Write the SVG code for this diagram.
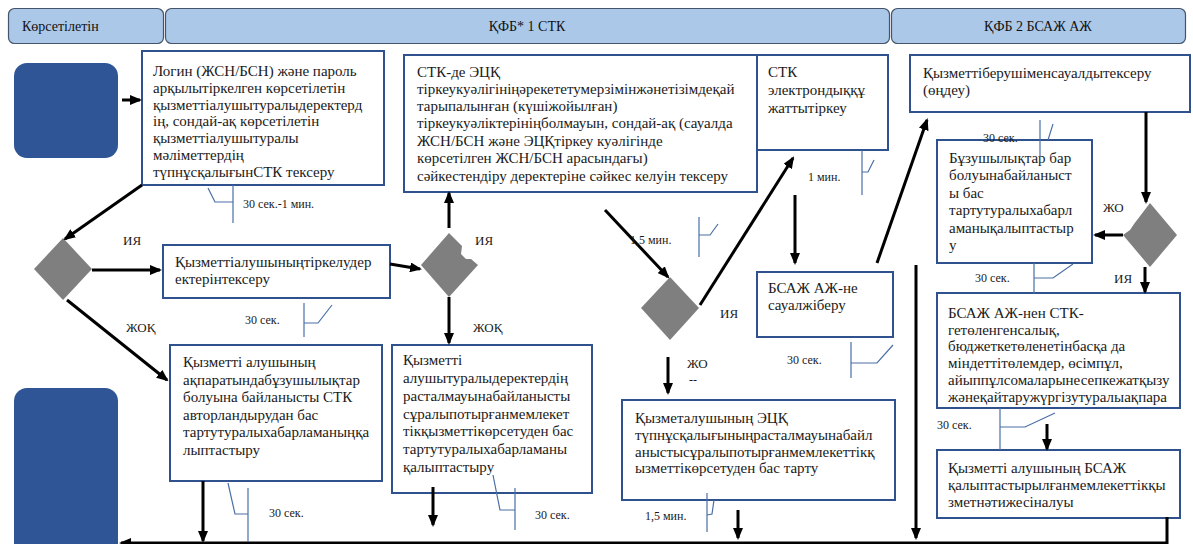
<svg xmlns="http://www.w3.org/2000/svg" width="1193" height="544" viewBox="0 0 1193 544">
  <style>
    .lane { fill: #abc8e9; stroke: #44546a; stroke-width: 1.2; }
    .lane-t { font-family: "Liberation Serif", "Times New Roman", serif; font-size: 14px; fill: #111; }
    .term { fill: #2f5597; }
    .box { fill: #fff; stroke: #2f528f; stroke-width: 2; }
    .bt { font-family: "Liberation Serif", "Times New Roman", serif; font-size: 15px; fill: #1a1a1a; }
    .dec { fill: #7f7f7f; }
    .flow { stroke: #000; stroke-width: 3; fill: none; }
    .tick { stroke: #4a6fa5; stroke-width: 1.2; fill: none; }
    .lbl { font-family: "Liberation Serif", "Times New Roman", serif; font-size: 13px; fill: #1a1a1a; }
    .sm { font-family: "Liberation Serif", "Times New Roman", serif; font-size: 12px; fill: #1a1a1a; }
  </style>
  <defs>
    <marker id="ah" viewBox="0 0 12 10" refX="10" refY="5" markerWidth="12" markerHeight="10" markerUnits="userSpaceOnUse" orient="auto">
      <path d="M0,0 L12,5 L0,10 Z" fill="#000"/>
    </marker>
  </defs>

  <rect width="1193" height="544" fill="#fff"/>

  <!-- swimlane headers -->
  <g id="lanes">
    <rect class="lane" x="8.5" y="8.5" width="155" height="35" rx="6"/>
    <text class="lane-t" x="22" y="31">Көрсетілетін</text>
    <rect class="lane" x="165.5" y="8.5" width="724" height="35" rx="6"/>
    <text class="lane-t" x="527" y="31" text-anchor="middle">ҚФБ* 1 СТК</text>
    <rect class="lane" x="891.5" y="8.5" width="294" height="35" rx="6"/>
    <text class="lane-t" x="1038" y="31" text-anchor="middle">ҚФБ 2 БСАЖ АЖ</text>
  </g>

  <!-- start / end terminals -->
  <g id="start"><rect class="term" x="14" y="63" width="104" height="95" rx="13"/></g>
  <g id="end"><rect class="term" x="14" y="388" width="104" height="175" rx="13"/></g>

  <!-- process boxes -->
  <g id="login-check">
    <rect class="box" x="142" y="51" width="242" height="134"/>
    <text class="bt">
      <tspan x="153" y="76">Логин (ЖСН/БСН) және пароль</tspan>
      <tspan x="153" y="93">арқылытіркелген көрсетілетін</tspan>
      <tspan x="153" y="110">қызметтіалушытуралыдеректерд</tspan>
      <tspan x="153" y="126">ің, сондай-ақ көрсетілетін</tspan>
      <tspan x="153" y="143">қызметтіалушытуралы</tspan>
      <tspan x="153" y="160">мәліметтердің</tspan>
      <tspan x="153" y="177">түпнұсқалығынСТК тексеру</tspan>
    </text>
  </g>

  <g id="ecp-check">
    <rect class="box" x="404" y="55" width="353" height="137"/>
    <text class="bt">
      <tspan x="417" y="77">СТК-де ЭЦҚ</tspan>
      <tspan x="417" y="94">тіркеукуәлігініңәрекететумерзімінжәнетізімдеқай</tspan>
      <tspan x="417" y="111">тарыпалынған (күшіжойылған)</tspan>
      <tspan x="417" y="128">тіркеукуәліктерініңболмауын, сондай-ақ (сауалда</tspan>
      <tspan x="417" y="146">ЖСН/БСН және ЭЦҚтіркеу куәлігінде</tspan>
      <tspan x="417" y="163">көрсетілген ЖСН/БСН арасындағы)</tspan>
      <tspan x="417" y="181">сәйкестендіру деректеріне сәйкес келуін тексеру</tspan>
    </text>
  </g>

  <g id="doc-register">
    <rect class="box" x="757" y="55" width="131" height="95"/>
    <text class="bt">
      <tspan x="768" y="77">СТК</tspan>
      <tspan x="768" y="95">электрондыққұ</tspan>
      <tspan x="768" y="113">жаттытіркеу</tspan>
    </text>
  </g>

  <g id="request-check">
    <rect class="box" x="910" y="55" width="280" height="57"/>
    <text class="bt">
      <tspan x="923" y="78">Қызметтіберушіменсауалдытексеру</tspan>
      <tspan x="923" y="95">(өңдеу)</tspan>
    </text>
  </g>

  <g id="refusal-notice">
    <rect class="box" x="937" y="140" width="155" height="123"/>
    <text class="bt">
      <tspan x="949" y="163">Бұзушылықтар бар</tspan>
      <tspan x="949" y="180">болуынабайланыст</tspan>
      <tspan x="949" y="198">ы бас</tspan>
      <tspan x="949" y="215">тартутуралыхабарл</tspan>
      <tspan x="949" y="233">аманықалыптастыр</tspan>
      <tspan x="949" y="250">у</tspan>
    </text>
  </g>

  <g id="payment-info">
    <rect class="box" x="937" y="293" width="243" height="115"/>
    <text class="bt">
      <tspan x="948" y="318">БСАЖ АЖ-нен СТК-</tspan>
      <tspan x="948" y="335">гетөленгенсалық,</tspan>
      <tspan x="948" y="351">бюджеткетөленетінбасқа да</tspan>
      <tspan x="948" y="368">міндеттітөлемдер, өсімпұл,</tspan>
      <tspan x="948" y="385">айыппұлсомаларынесепкежатқызу</tspan>
      <tspan x="948" y="402">жәнеқайтаружүргізутуралыақпара</tspan>
    </text>
  </g>

  <g id="result">
    <rect class="box" x="937" y="450" width="243" height="68"/>
    <text class="bt">
      <tspan x="948" y="473">Қызметті алушының БСАЖ</tspan>
      <tspan x="948" y="490">қалыптастырылғанмемлекеттікқы</tspan>
      <tspan x="948" y="507">зметнәтижесіналуы</tspan>
    </text>
  </g>

  <g id="send-request">
    <rect class="box" x="757" y="272" width="136" height="65"/>
    <text class="bt">
      <tspan x="768" y="293">БСАЖ АЖ-не</tspan>
      <tspan x="768" y="310">сауалжіберу</tspan>
    </text>
  </g>

  <g id="ecp-refusal">
    <rect class="box" x="622" y="400" width="273" height="100"/>
    <text class="bt">
      <tspan x="635" y="423">Қызметалушының ЭЦҚ</tspan>
      <tspan x="635" y="440">түпнұсқалығыныңрасталмауынабайл</tspan>
      <tspan x="635" y="457">аныстысұралыпотырғанмемлекеттікқ</tspan>
      <tspan x="635" y="473">ызметтікөрсетуден бас тарту</tspan>
    </text>
  </g>

  <g id="registration-check">
    <rect class="box" x="163" y="245" width="227" height="53"/>
    <text class="bt">
      <tspan x="175" y="267">Қызметтіалушыныңтіркелудер</tspan>
      <tspan x="175" y="284">ектерінтексеру</tspan>
    </text>
  </g>

  <g id="auth-refusal">
    <rect class="box" x="170" y="345" width="212" height="136"/>
    <text class="bt">
      <tspan x="183" y="367">Қызметті алушының</tspan>
      <tspan x="183" y="385">ақпаратындабұзушылықтар</tspan>
      <tspan x="183" y="402">болуына байланысты СТК</tspan>
      <tspan x="183" y="420">авторландырудан бас</tspan>
      <tspan x="183" y="437">тартутуралыхабарламаныңқа</tspan>
      <tspan x="183" y="455">лыптастыру</tspan>
    </text>
  </g>

  <g id="data-refusal">
    <rect class="box" x="392" y="345" width="200" height="148"/>
    <text class="bt">
      <tspan x="403" y="365">Қызметті</tspan>
      <tspan x="403" y="383">алушытуралыдеректердің</tspan>
      <tspan x="403" y="401">расталмауынабайланысты</tspan>
      <tspan x="403" y="419">сұралыпотырғанмемлекет</tspan>
      <tspan x="403" y="436">тікқызметтікөрсетуден бас</tspan>
      <tspan x="403" y="454">тартутуралыхабарламаны</tspan>
      <tspan x="403" y="472">қалыптастыру</tspan>
    </text>
  </g>

  <!-- decisions -->
  <g id="decision-login"><polygon class="dec" points="63,238 92,269 63,300 34,269"/></g>
  <g id="decision-registration"><polygon class="dec" points="449,233 462,246 461,254 466,259 471,259 478,265 449,297 421,265"/></g>
  <g id="decision-ecp"><polygon class="dec" points="670,277 699,308 670,340 641,308"/></g>
  <g id="decision-request"><polygon class="dec" points="1150,203 1177,235 1150,267 1123,235 1130,230 1134,224"/></g>

  <!-- connectors -->
  <g id="connectors">
    <line class="flow" x1="122" y1="100" x2="140" y2="100" marker-end="url(#ah)"/>
    <line class="flow" x1="142" y1="185" x2="65" y2="239" marker-end="url(#ah)"/>
    <line class="flow" x1="92" y1="270" x2="160" y2="270" marker-end="url(#ah)"/>
    <line class="flow" x1="67" y1="300" x2="167" y2="380" marker-end="url(#ah)"/>
    <line class="flow" x1="390" y1="264" x2="420" y2="269" marker-end="url(#ah)"/>
    <line class="flow" x1="449" y1="228" x2="449" y2="193" marker-end="url(#ah)"/>
    <line class="flow" x1="449" y1="297" x2="449" y2="343" marker-end="url(#ah)"/>
    <line class="flow" x1="605" y1="210" x2="668" y2="277" marker-end="url(#ah)"/>
    <line class="flow" x1="700" y1="305" x2="793" y2="158" marker-end="url(#ah)"/>
    <line class="flow" x1="795" y1="195" x2="795" y2="263" marker-end="url(#ah)"/>
    <line class="flow" x1="877" y1="263" x2="927" y2="120" marker-end="url(#ah)"/>
    <line class="flow" x1="668" y1="357" x2="668" y2="393" marker-end="url(#ah)"/>
    <line class="flow" x1="1146" y1="112" x2="1146" y2="202" marker-end="url(#ah)"/>
    <line class="flow" x1="1123" y1="235" x2="1095" y2="235" marker-end="url(#ah)"/>
    <line class="flow" x1="1145" y1="267" x2="1145" y2="292" marker-end="url(#ah)"/>
    <line class="flow" x1="1047" y1="424" x2="1047" y2="449" marker-end="url(#ah)"/>
    <line class="flow" x1="203" y1="481" x2="203" y2="541" marker-end="url(#ah)"/>
    <line class="flow" x1="433" y1="487" x2="433" y2="525" marker-end="url(#ah)"/>
    <line class="flow" x1="738" y1="510" x2="738" y2="538" marker-end="url(#ah)"/>
    <line class="flow" x1="916" y1="265" x2="916" y2="538" marker-end="url(#ah)"/>
    <polyline class="flow" points="1167,517 1167,543 121,543" marker-end="url(#ah)"/>
  </g>

  <!-- duration brackets -->
  <g id="durations">
    <polyline class="tick" points="233,185 233,223"/>
    <polyline class="tick" points="233,202 215,202 208,188"/>
    <polyline class="tick" points="304,303 304,337"/>
    <polyline class="tick" points="304,323 318,323 332,305"/>
    <polyline class="tick" points="248,488 248,542"/>
    <polyline class="tick" points="248,514 235,514 228,483"/>
    <polyline class="tick" points="515,488 515,530"/>
    <polyline class="tick" points="515,510 500,510 493,475"/>
    <polyline class="tick" points="699,217 699,257"/>
    <polyline class="tick" points="699,235 710,235 718,224"/>
    <polyline class="tick" points="862,150 862,195"/>
    <polyline class="tick" points="862,172 868,172 874,160"/>
    <polyline class="tick" points="851,342 851,378"/>
    <polyline class="tick" points="851,363 877,363 893,345"/>
    <polyline class="tick" points="707,493 707,532"/>
    <polyline class="tick" points="707,515 712,514 714,500"/>
    <polyline class="tick" points="1040,120 1040,157"/>
    <polyline class="tick" points="1048,140 1053,124"/>
    <polyline class="tick" points="1034,263 1034,294"/>
    <polyline class="tick" points="1034,278 1053,278 1073,264"/>
    <polyline class="tick" points="1000,408 1000,450"/>
    <polyline class="tick" points="1000,427 1025,427 1055,413"/>
  </g>

  <!-- branch and timing labels -->
  <g id="labels">
    <text class="lbl" x="123" y="245">ИЯ</text>
    <text class="lbl" x="126" y="332">ЖОҚ</text>
    <text class="lbl" x="475" y="245">ИЯ</text>
    <text class="lbl" x="473" y="332">ЖОҚ</text>
    <text class="lbl" x="720" y="318">ИЯ</text>
    <text class="lbl" x="687" y="368">ЖО</text>
    <text class="sm" x="689" y="384" font-size="9">--</text>
    <text class="lbl" x="1103" y="212">ЖО</text>
    <text class="lbl" x="1114" y="283">ИЯ</text>
    <text class="sm" x="243" y="208">30 сек.-1 мин.</text>
    <text class="sm" x="245" y="324">30 сек.</text>
    <text class="sm" x="269" y="517">30 сек.</text>
    <text class="sm" x="535" y="519">30 сек.</text>
    <text class="sm" x="630" y="244">1,5 мин.</text>
    <text class="sm" x="645" y="520">1,5 мин.</text>
    <text class="sm" x="808" y="181" font-size="11">1 мин.</text>
    <text class="sm" x="787" y="364">30 сек.</text>
    <text class="sm" x="983" y="142">30 сек.</text>
    <text class="sm" x="975" y="282">30 сек.</text>
    <text class="sm" x="937" y="429">30 сек.</text>
  </g>
</svg>
